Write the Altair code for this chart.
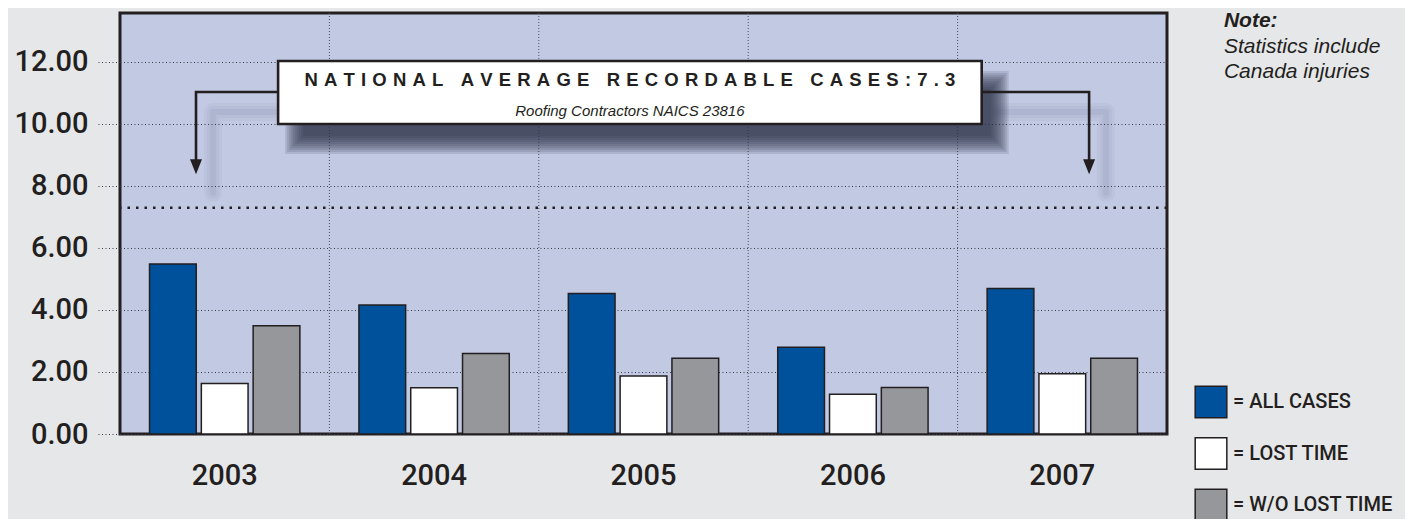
import altair as alt
import pandas as pd

# ---------------- data ----------------
years = ["2003", "2004", "2005", "2006", "2007"]
series = ["ALL CASES", "LOST TIME", "W/O LOST TIME"]
all_cases = [5.48, 4.16, 4.53, 2.80, 4.69]
lost_time = [1.63, 1.49, 1.87, 1.28, 1.94]
wo_lost_time = [3.49, 2.60, 2.44, 1.50, 2.44]
colors = ["#00519B", "#FFFFFF", "#96979B"]
y_ticks = [0, 2, 4, 6, 8, 10, 12]
national_avg = [7.3]
title_text = "NATIONAL AVERAGE RECORDABLE CASES:7.3"
subtitle_text = "Roofing Contractors NAICS 23816"
note_title = ["Note:"]
note_lines = ["Statistics include", "Canada injuries"]

# annotation anchors in data units (x: year-band index 0..5, y: rate)
band_edges = [1, 2, 3, 4]
box_x = [0.755, 4.115]
box_y = [12.03, 10.0]
arrow_x = [0.363, 4.628]
arrow_y_top = 11.03
arrow_y_tip = 8.62
note_x = 5.272
note_y = [13.13, 12.29, 11.48]
y_top = 13.58

TXT = "#231F20"
FONT = "Liberation Sans"
LABEL_FONT = "Roboto"

bars_df = pd.DataFrame({
    "year": [y for y in years for _ in series],
    "series": series * len(years),
    "value": [v for trio in zip(all_cases, lost_time, wo_lost_time) for v in trio],
})

y_scale = alt.Scale(domain=[0, y_top], nice=False, zero=True)
x_num = alt.Scale(domain=[0, 5], nice=False, zero=False)


def qx(f="x"):
    return alt.X(f + ":Q", scale=x_num, axis=None)


def qy(f="y"):
    return alt.Y(f + ":Q", scale=y_scale, axis=None)


# vertical grid lines at the category boundaries
vgrid = alt.Chart(pd.DataFrame({"b": band_edges})).mark_rule(
    color="#4a4d5a", strokeDash=[1, 2], strokeWidth=1
).encode(x=qx("b"))

bars = alt.Chart(bars_df).mark_bar(stroke=TXT, strokeWidth=1.5).encode(
    x=alt.X("year:N", sort=years, title=None,
            scale=alt.Scale(paddingInner=0, paddingOuter=0),
            axis=alt.Axis(labelAngle=0, ticks=False, domain=False, grid=False,
                          labelFontSize=29, labelPadding=27, labelColor=TXT,
                          labelFont=LABEL_FONT, labelFontWeight=500)),
    xOffset=alt.XOffset("series:N", sort=series,
                        scale=alt.Scale(paddingInner=0.098, paddingOuter=0.57)),
    y=alt.Y("value:Q", scale=y_scale, title=None,
            axis=alt.Axis(values=y_ticks, format=".2f", domain=False,
                          grid=True, gridDash=[1, 2.5], gridColor="#3a3d4a", gridWidth=1,
                          ticks=True, tickDash=[1, 2.5], tickColor="#3a3d4a", tickSize=23,
                          labelFontSize=29, labelPadding=9, labelColor=TXT,
                          labelFont=LABEL_FONT, labelFontWeight=500)),
    color=alt.Color("series:N", sort=series,
                    scale=alt.Scale(domain=series, range=colors),
                    legend=alt.Legend(title=None, orient="none", legendX=1074, legendY=372,
                                      symbolType="square", symbolSize=1000,
                                      symbolStrokeColor=TXT, symbolStrokeWidth=1.5,
                                      symbolOpacity=1, labelLimit=400,
                                      labelFontSize=20, labelFont=LABEL_FONT,
                                      labelFontWeight=500, labelColor=TXT,
                                      labelOffset=5, rowPadding=13.5, padding=0,
                                      labelExpr="'= ' + datum.label")),
)

avg_rule = alt.Chart(pd.DataFrame({"v": national_avg})).mark_rule(
    color=TXT, strokeDash=[2.5, 6], strokeWidth=2.5
).encode(y=qy("v"))

# soft shadows (arrow + box)
px_x = 5 / 1047.0
px_y = y_top / 421.0
sh_dx, sh_dy = 17 * px_x, 20 * px_y

arrow_rows = []
shadow_rows = []
for i, (ax, bx) in enumerate(zip(arrow_x, [box_x[0], box_x[1]])):
    pts = [(bx, arrow_y_top), (ax, arrow_y_top), (ax, arrow_y_tip)]
    for k, (xx, yy) in enumerate(pts):
        arrow_rows.append({"arrow": i, "o": k, "x": xx, "y": yy})
        shadow_rows.append({"arrow": i, "o": k, "x": xx + sh_dx,
                            "y": yy - sh_dy - (0 if k < 2 else 6 * px_y)})
arrow_df = pd.DataFrame(arrow_rows)
arrow_sh_df = pd.DataFrame(shadow_rows)

arrow_shadows = [
    alt.Chart(arrow_sh_df).mark_line(
        color="#2a2f4a", strokeWidth=w, opacity=op, strokeCap="round", strokeJoin="round"
    ).encode(x=qx(), y=qy(), detail="arrow:N", order="o:Q")
    for w, op in [(18, 0.035), (12, 0.04), (6, 0.05)]
]

blur_steps = [-8, -6, -4, -2, 0, 2, 4, 6, 8, 10]
box_sh_df = pd.DataFrame([
    {"x": box_x[0] + sh_dx - e * px_x, "x2": box_x[1] + sh_dx + e * px_x,
     "y": box_y[0] - sh_dy + e * px_y, "y2": box_y[1] - sh_dy - e * px_y}
    for e in blur_steps
])
box_shadow = alt.Chart(box_sh_df).mark_rect(color="#2c3045", opacity=0.14).encode(
    x=qx(), x2="x2:Q", y=qy(), y2="y2:Q")

arrows = alt.Chart(arrow_df).mark_line(color=TXT, strokeWidth=2.6).encode(
    x=qx(), y=qy(), detail="arrow:N", order="o:Q")

heads = alt.Chart(pd.DataFrame({"x": arrow_x, "y": [arrow_y_tip] * 2})).mark_point(
    shape="M-0.8,-1L0.8,-1L0,1Z", filled=True, size=225, color=TXT, opacity=1
).encode(x=qx(), y=qy())

box = alt.Chart(pd.DataFrame({"x": [box_x[0]], "x2": [box_x[1]], "y": [box_y[0]], "y2": [box_y[1]]})).mark_rect(
    fill="white", stroke=TXT, strokeWidth=2.6
).encode(x=qx(), x2="x2:Q", y=qy(), y2="y2:Q")


def spaced(t):
    return "\u2004\u00a0\u2004".join("\u2004".join(w) for w in t.split(" "))


cx = (box_x[0] + box_x[1]) / 2
title_df = pd.DataFrame({"x": [cx], "y": [11.42], "t": [spaced(title_text)]})
title = alt.Chart(title_df).mark_text(
    font=FONT, fontWeight="bold", fontSize=18.5, color=TXT, align="center", baseline="middle"
).encode(x=qx(), y=qy(), text="t:N")

sub_df = pd.DataFrame({"x": [cx], "y": [10.42], "t": [subtitle_text]})
subtitle = alt.Chart(sub_df).mark_text(
    font=FONT, fontStyle="italic", fontSize=15, color=TXT,
    align="center", baseline="middle"
).encode(x=qx(), y=qy(), text="t:N")

note1 = alt.Chart(pd.DataFrame({"x": [note_x], "y": note_y[:1], "t": note_title})).mark_text(
    font=FONT, fontStyle="italic", fontWeight="bold", fontSize=21, color=TXT,
    align="left", baseline="alphabetic"
).encode(x=qx(), y=qy(), text="t:N")
note2 = alt.Chart(pd.DataFrame({"x": [note_x] * 2, "y": note_y[1:], "t": note_lines})).mark_text(
    font=FONT, fontStyle="italic", fontSize=21, color=TXT,
    align="left", baseline="alphabetic"
).encode(x=qx(), y=qy(), text="t:N")

chart = alt.layer(
    vgrid, bars, avg_rule, *arrow_shadows, box_shadow,
    arrows, heads, box, title, subtitle, note1, note2
).resolve_scale(x="independent").resolve_axis(y="independent").properties(
    width=1047, height=421, background="#E6E7E9",
    padding={"left": 112, "top": 5, "right": 238, "bottom": 85},
    autosize=alt.AutoSizeParams(type="none"),
).configure_view(fill="#C2C9E2", stroke=TXT, strokeWidth=3)

chart.save("out.html", embed_options={"renderer": "svg", "actions": False})
